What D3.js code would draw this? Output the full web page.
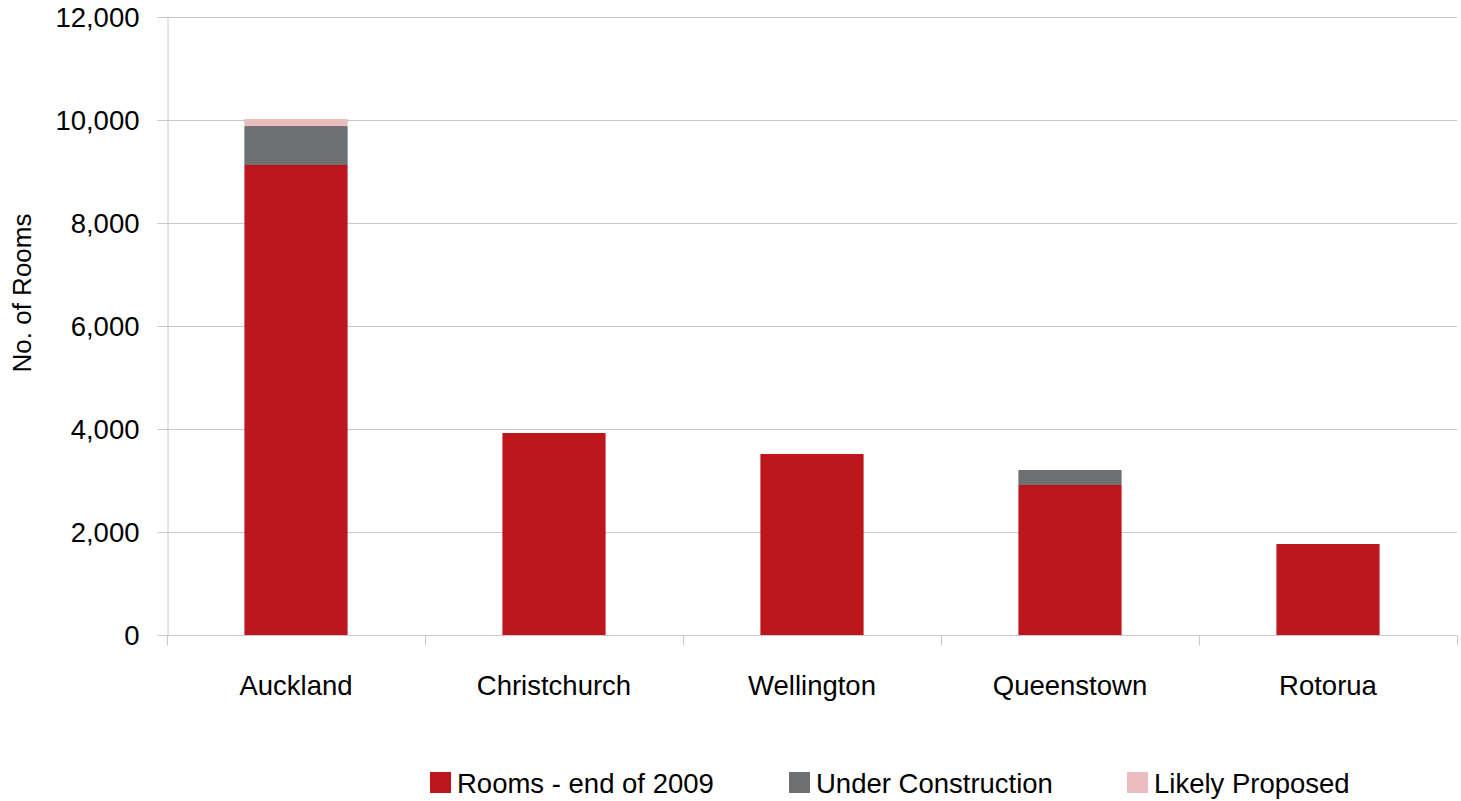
<!DOCTYPE html>
<html><head><meta charset="utf-8">
<script src="https://cdn.jsdelivr.net/npm/d3@7"></script>
<style>body{margin:0;background:#fff}svg text{font-family:"Liberation Sans",Arial,sans-serif;fill:#000}</style>
</head><body><svg id="c" width="1461" height="801"></svg>
<script>
const categories = ["Auckland","Christchurch","Wellington","Queenstown","Rotorua"];
const seriesNames = ["Rooms - end of 2009","Under Construction","Likely Proposed"];
const rooms2009 = [9126, 3922, 3515, 2913, 1767];
const underConstruction = [757, 0, 0, 291, 0];
const likelyProposed = [136, 0, 0, 0, 0];
const yTicks = [0, 2000, 4000, 6000, 8000, 10000, 12000];
const colors = ["#BE161D", "#6D7073", "#EBBDBF"];

const svg = d3.select("#c");
const m = {l:167, r:4, t:17, b:166};
const W = 1461, H = 801;
const FS = 27.5;
const x = d3.scaleBand().domain(categories).range([m.l, W - m.r]).paddingInner(0.6).paddingOuter(0.3);
const y = d3.scaleLinear().domain([0, 12000]).range([H - m.b, m.t]);

// gridlines
svg.append("g").selectAll("line").data(yTicks.filter(d=>d>0)).join("line")
  .attr("x1", m.l).attr("x2", W - m.r)
  .attr("y1", d=>Math.round(y(d))+0.5).attr("y2", d=>Math.round(y(d))+0.5)
  .attr("stroke", "#C8C8C8").attr("stroke-width", 1);

const data = categories.map((c,i)=>({cat:c, v:[rooms2009[i], underConstruction[i], likelyProposed[i]]}));
const stack = d3.stack().keys([0,1,2]).value((d,k)=>d.v[k]);
const layers = stack(data);
svg.append("g").selectAll("g").data(layers).join("g")
  .attr("fill", (d,i)=>colors[i])
  .selectAll("rect").data(d=>d.filter(s=>s[1]-s[0]>0)).join("rect")
  .attr("x", d=>x(d.data.cat)).attr("width", x.bandwidth())
  .attr("y", d=>y(d[1])).attr("height", d=>y(d[0])-y(d[1]));

// y axis
const yAxis = d3.axisLeft(y).tickValues(yTicks).tickSize(10).tickSizeOuter(0).tickFormat(d3.format(","));
const gy = svg.append("g").attr("transform", `translate(${m.l+0.5},0)`).call(yAxis);
gy.select(".domain").attr("stroke", "#C8C8C8");
gy.selectAll(".tick line").attr("stroke", "#C8C8C8");
gy.selectAll(".tick text").attr("font-size", FS).attr("x", -28).attr("dy", "0.36em");

// x axis
const xPos = d3.scaleOrdinal().domain(categories).range(categories.map(c=>x(c)+x.bandwidth()/2));
const gx = svg.append("g").attr("transform", `translate(0,${Math.round(y(0))+0.5})`);
gx.append("line").attr("x1", m.l).attr("x2", W - m.r).attr("stroke", "#C8C8C8");
const step = x.step();
const boundaries = d3.range(categories.length + 1).map(i => m.l + i*step);
gx.selectAll("line.t").data(boundaries).join("line").attr("class","t")
  .attr("x1", d=>Math.round(d)+0.5).attr("x2", d=>Math.round(d)+0.5).attr("y1", 0).attr("y2", 10)
  .attr("stroke", "#C8C8C8");
gx.selectAll("text").data(categories).join("text")
  .attr("x", d=>xPos(d)).attr("y", 59).attr("text-anchor", "middle").attr("font-size", FS).text(d=>d);

// y title
svg.append("text").attr("transform", `translate(31,293) rotate(-90)`).attr("text-anchor","middle")
  .attr("font-size", 26).text("No. of Rooms");

// legend
const legX = [430, 789, 1127];
const lg = svg.append("g").selectAll("g").data(seriesNames).join("g")
  .attr("transform", (d,i)=>`translate(${legX[i]},772)`);
lg.append("rect").attr("width", 21).attr("height", 21).attr("fill", (d,i)=>colors[i]);
lg.append("text").attr("x", 27).attr("y", 11).attr("dy","0.36em").attr("font-size", FS).text(d=>d);
</script></body></html>
